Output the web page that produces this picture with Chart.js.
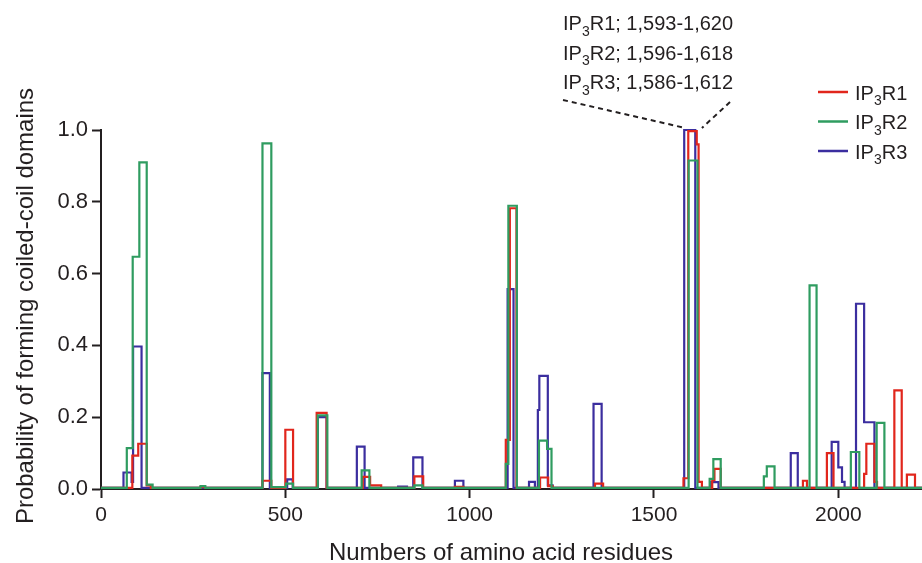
<!DOCTYPE html>
<html>
<head>
<meta charset="utf-8">
<script src="https://cdn.jsdelivr.net/npm/chart.js@4.4.0/dist/chart.umd.min.js"></script>
<style>
html, body { margin: 0; padding: 0; background: #fff; }
canvas { display: block; }
</style>
</head>
<body>
<canvas id="chart" width="922" height="563"></canvas>
<script>
var xTicks = [0, 500, 1000, 1500, 2000];
var yTicks = [0, 0.2, 0.4, 0.6, 0.8, 1.0];
var xEnd = 2227;

// each window starts at a residue number and keeps its probability until the next start
var r1Start = [0, 85, 101, 124, 135, 270, 282, 438, 462, 500, 521, 585, 612, 710, 730, 760, 850, 874, 960, 983,
  1098, 1109, 1127, 1191, 1213, 1225, 1340, 1362, 1580, 1593, 1616, 1621, 1630, 1658, 1664, 1681,
  1904, 1915, 1969, 1987, 2070, 2076, 2098, 2105, 2152, 2172, 2186, 2208];
var r1Prob = [0.003, 0.093, 0.126, 0.01, 0.003, 0.006, 0.003, 0.023, 0.003, 0.165, 0.003, 0.212, 0.003, 0.034, 0.01, 0.003, 0.035, 0.003, 0.006, 0.003,
  0.137, 0.782, 0.003, 0.032, 0.008, 0.003, 0.015, 0.003, 0.03, 0.997, 0.96, 0.02, 0.003, 0.025, 0.056, 0.003,
  0.023, 0.003, 0.1, 0.003, 0.042, 0.126, 0.02, 0.003, 0.275, 0.003, 0.04, 0.003];

var r2Start = [0, 70, 86, 104, 124, 140, 270, 283, 438, 462, 502, 521, 588, 614, 707, 728, 850, 872,
  1098, 1105, 1128, 1188, 1210, 1222, 1594, 1618, 1651, 1661, 1681, 1798, 1806, 1827,
  1922, 1941, 2034, 2057, 2104, 2125];
var r2Prob = [0.003, 0.114, 0.647, 0.91, 0.012, 0.003, 0.008, 0.003, 0.963, 0.005, 0.015, 0.003, 0.205, 0.003, 0.052, 0.003, 0.01, 0.003,
  0.07, 0.789, 0.003, 0.135, 0.112, 0.003, 0.915, 0.003, 0.028, 0.083, 0.003, 0.035, 0.063, 0.003,
  0.567, 0.003, 0.103, 0.003, 0.184, 0.003];

var r3Start = [0, 61, 83, 87, 110, 438, 458, 505, 520, 588, 612, 694, 715, 806, 830, 847, 872, 960, 983,
  1103, 1119, 1161, 1177, 1185, 1189, 1212, 1225, 1336, 1358, 1582, 1612, 1655, 1675,
  1871, 1890, 1982, 2000, 2010, 2017, 2048, 2070, 2098];
var r3Prob = [0.003, 0.046, 0.02, 0.397, 0.003, 0.323, 0.003, 0.027, 0.003, 0.2, 0.003, 0.118, 0.003, 0.007, 0.003, 0.088, 0.003, 0.023, 0.003,
  0.557, 0.003, 0.02, 0.003, 0.22, 0.315, 0.01, 0.003, 0.237, 0.003, 1.0, 0.003, 0.019, 0.003,
  0.1, 0.003, 0.131, 0.06, 0.02, 0.003, 0.516, 0.186, 0.003];

var isoforms = ['1', '2', '3'];
var ranges = ['1,593-1,620', '1,596-1,618', '1,586-1,612'];

var FONT = "'Liberation Sans', Arial, Helvetica, sans-serif";
var INK = '#231f20';
var colors = { r1: '#e1261c', r2: '#2f9c60', r3: '#3b2e9f' };

function steps(starts, probs) {
  var pts = [];
  for (var i = 0; i < starts.length; i++) pts.push({ x: starts[i], y: probs[i] });
  pts.push({ x: xEnd, y: probs[probs.length - 1] });
  return pts;
}

function drawName(ctx, x, y, suffix, size) {
  ctx.font = size + 'px ' + FONT;
  ctx.fillText('IP', x, y);
  x += ctx.measureText('IP').width;
  ctx.font = Math.round(size * 0.7) + 'px ' + FONT;
  ctx.fillText('3', x, y + size * 0.28);
  x += ctx.measureText('3').width;
  ctx.font = size + 'px ' + FONT;
  ctx.fillText('R' + suffix, x, y);
  return x + ctx.measureText('R' + suffix).width;
}

var extras = {
  id: 'extras',
  afterDraw: function(chart) {
    var ctx = chart.ctx;
    var xs = chart.scales.x, ys = chart.scales.y;
    ctx.save();
    ctx.fillStyle = INK;
    ctx.textBaseline = 'alphabetic';

    // axis titles
    ctx.font = '24px ' + FONT;
    ctx.textAlign = 'center';
    ctx.fillText('Numbers of amino acid residues', 501, 560);
    ctx.save();
    ctx.translate(33, 306);
    ctx.rotate(-Math.PI / 2);
    ctx.fillText('Probability of forming coiled-coil domains', 0, 0);
    ctx.restore();

    // legend
    ctx.textAlign = 'left';
    var legendColors = [colors.r1, colors.r2, colors.r3];
    for (var i = 0; i < isoforms.length; i++) {
      var ly = 92 + i * 29.5;
      ctx.strokeStyle = legendColors[i];
      ctx.lineWidth = 2.5;
      ctx.beginPath();
      ctx.moveTo(818, ly);
      ctx.lineTo(848, ly);
      ctx.stroke();
      drawName(ctx, 855, ly + 7.5, isoforms[i], 20);
    }

    // annotation
    for (var j = 0; j < ranges.length; j++) {
      var ay = 30 + j * 29.5;
      var ex = drawName(ctx, 563, ay, isoforms[j], 20);
      ctx.font = '20px ' + FONT;
      ctx.fillText('; ' + ranges[j], ex, ay);
    }
    ctx.strokeStyle = INK;
    ctx.lineWidth = 2;
    ctx.setLineDash([5, 4]);
    var topY = ys.getPixelForValue(1.0) - 2;
    ctx.beginPath();
    ctx.moveTo(563, 100);
    ctx.lineTo(xs.getPixelForValue(1585), topY);
    ctx.moveTo(730, 102);
    ctx.lineTo(xs.getPixelForValue(1630), topY);
    ctx.stroke();
    ctx.restore();
  }
};

var ds = function(label, pts, color) {
  return {
    label: label,
    data: pts,
    borderColor: color,
    backgroundColor: color,
    borderWidth: 2.2,
    pointRadius: 0,
    stepped: true,
    fill: false,
    clip: false
  };
};

new Chart(document.getElementById('chart'), {
  type: 'line',
  data: {
    datasets: [
      ds('IP3R2', steps(r2Start, r2Prob), colors.r2),
      ds('IP3R1', steps(r1Start, r1Prob), colors.r1),
      ds('IP3R3', steps(r3Start, r3Prob), colors.r3)
    ]
  },
  options: {
    responsive: false,
    animation: false,
    layout: { padding: { top: 130, left: 0, right: 0, bottom: 0 } },
    plugins: { legend: { display: false }, tooltip: { enabled: false } },
    scales: {
      x: {
        type: 'linear',
        min: 0,
        max: xEnd,
        afterBuildTicks: function(s) { s.ticks = xTicks.map(function(v) { return { value: v }; }); },
        afterFit: function(s) { s.height = 74; },
        ticks: {
          color: INK,
          font: { family: FONT, size: 21 },
          padding: 5,
          maxRotation: 0,
          callback: function(v) { return String(v); }
        },
        grid: { drawOnChartArea: false, tickLength: 9, tickWidth: 2, tickColor: INK },
        border: { color: INK, width: 2 }
      },
      y: {
        min: 0,
        max: 1,
        afterBuildTicks: function(s) { s.ticks = yTicks.map(function(v) { return { value: v }; }); },
        afterFit: function(s) { s.width = 101; },
        ticks: {
          color: INK,
          font: { family: FONT, size: 22 },
          padding: 4,
          callback: function(v) { return v.toFixed(1); }
        },
        grid: { drawOnChartArea: false, tickLength: 9, tickWidth: 2, tickColor: INK },
        border: { color: INK, width: 2 }
      }
    }
  },
  plugins: [extras]
});
</script>
</body>
</html>
